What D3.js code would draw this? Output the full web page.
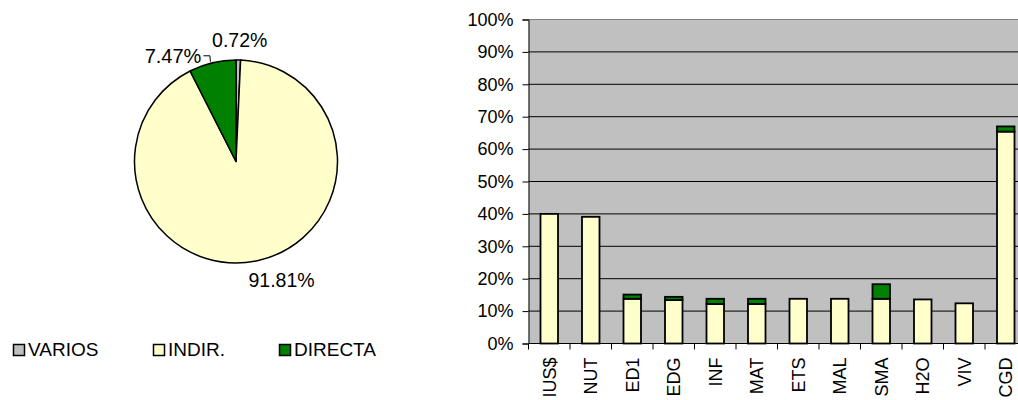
<!DOCTYPE html>
<html>
<head>
<meta charset="utf-8">
<script src="https://cdn.jsdelivr.net/npm/d3@7"></script>
<style>
  body { margin: 0; background: #fff; }
  svg { display: block; font-family: "Liberation Sans", Arial, sans-serif; }
</style>
</head>
<body>
<div id="chart"></div>
<script>
// pie shares (clockwise from 12 o'clock)
let pieKeys = ['VARIOS', 'INDIR.', 'DIRECTA'];
let pieValues = [0.72, 91.81, 7.47];
let pieColors = ['#c0c0c0', '#ffffcc', '#008000'];

// stacked bars, percent
let categories = ['IUS$', 'NUT', 'ED1', 'EDG', 'INF', 'MAT', 'ETS', 'MAL', 'SMA', 'H2O', 'VIV', 'CGD'];
let variosValues = [0, 0, 0, 0, 0, 0, 0, 0, 0, 0, 0, 0];
let indirValues = [40.0, 39.1, 13.8, 13.4, 12.2, 12.2, 13.8, 13.8, 13.8, 13.6, 12.4, 65.4];
let directaValues = [0, 0, 1.3, 1.0, 1.6, 1.6, 0, 0, 4.5, 0, 0, 1.6];
let yTicks = [0, 10, 20, 30, 40, 50, 60, 70, 80, 90, 100];

let W = 1018, H = 400;
let svg = d3.select('#chart').append('svg')
  .attr('width', W)
  .attr('height', H);

// ---------- pie ----------
let cx = 236, cy = 161.5, r = 101.5;
let pieData = pieKeys.map((k, i) => ({key: k, value: pieValues[i], color: pieColors[i]}));
let arcs = d3.pie().sort(null).value(d => d.value)(pieData);
let arc = d3.arc().innerRadius(0).outerRadius(r);

let pieG = svg.append('g').attr('transform', `translate(${cx}, ${cy})`);
pieG.selectAll('path')
  .data(arcs)
  .join('path')
  .attr('d', arc)
  .attr('fill', d => d.data.color)
  .attr('stroke', '#000')
  .attr('stroke-width', 1.5)
  .attr('stroke-linejoin', 'round');

let labelFont = 19.5;
arcs.forEach(function(d) {
  let mid = (d.startAngle + d.endAngle) / 2;
  let txt = d.data.value.toFixed(2) + '%';
  let edge = [Math.sin(mid) * r, -Math.cos(mid) * r];
  if (d.data.key === 'DIRECTA') {
    // label pushed aside with a leader line
    let p = [edge[0] - 2, edge[1] - 1];
    pieG.append('polyline')
      .attr('points', [p, [p[0] - 0.5, p[1] - 6], [p[0] - 7, p[1] - 6]].map(q => q.join(',')).join(' '))
      .attr('fill', 'none')
      .attr('stroke', '#000')
      .attr('stroke-width', 1);
    pieG.append('text')
      .attr('x', p[0] - 9)
      .attr('y', p[1] - 6)
      .attr('dy', '0.35em')
      .attr('text-anchor', 'end')
      .attr('font-size', 20)
      .text(txt);
  } else {
    let lr = r + 20;
    let x = Math.sin(mid) * lr, y = -Math.cos(mid) * lr;
    let dx = d.data.key === 'INDIR.' ? 20 : 1;
    pieG.append('text')
      .attr('x', x + dx)
      .attr('y', y)
      .attr('dy', '0.35em')
      .attr('text-anchor', 'middle')
      .attr('font-size', labelFont)
      .text(txt);
  }
});

// legend
let legendX = [13, 153, 279];
let legend = svg.append('g');
pieData.forEach(function(d, i) {
  legend.append('rect')
    .attr('x', legendX[i] + 0.5)
    .attr('y', 344.5)
    .attr('width', 11)
    .attr('height', 11)
    .attr('fill', d.color)
    .attr('stroke', '#000')
    .attr('stroke-width', 1.5);
  legend.append('text')
    .attr('x', legendX[i] + 15)
    .attr('y', 356)
    .attr('font-size', 19)
    .text(d.key);
});

// ---------- bars ----------
let margin = {left: 528.5, top: 19.5};
let plotH = 324;
let step = 41.5;
let plotW = step * categories.length;

let x = d3.scaleBand().domain(categories).range([0, plotW]).padding(0);
let y = d3.scaleLinear().domain([0, 100]).range([plotH, 0]);

let g = svg.append('g').attr('transform', `translate(${margin.left}, ${margin.top})`);

g.append('rect')
  .attr('width', plotW)
  .attr('height', plotH)
  .attr('fill', '#c0c0c0');

g.selectAll('line.grid')
  .data(yTicks.filter(t => t > 0))
  .join('line')
  .classed('grid', true)
  .attr('x1', 0)
  .attr('x2', plotW)
  .attr('y1', d => y(d))
  .attr('y2', d => y(d))
  .attr('stroke', d => d === 100 ? '#808080' : '#000')
  .attr('stroke-width', 1);

let rows = categories.map((c, i) => ({cat: c, varios: variosValues[i], indir: indirValues[i], directa: directaValues[i]}));
let stack = d3.stack().keys(['varios', 'indir', 'directa'])(rows);
let stackColors = {varios: '#c0c0c0', indir: '#ffffcc', directa: '#008000'};
let barW = 17.5;

stack.forEach(function(layer) {
  g.append('g')
    .selectAll('rect')
    .data(layer.filter(d => d[1] - d[0] > 0))
    .join('rect')
    .attr('x', d => x(d.data.cat) + x.bandwidth() / 2 - barW / 2)
    .attr('y', d => y(d[1]))
    .attr('width', barW)
    .attr('height', d => y(d[0]) - y(d[1]))
    .attr('fill', stackColors[layer.key])
    .attr('stroke', '#000')
    .attr('stroke-width', 1.8);
});

// y axis
let yAxis = g.append('g')
  .call(d3.axisLeft(y).tickValues(yTicks).tickFormat(d => d + '%').tickSize(6).tickPadding(9));
yAxis.select('.domain').attr('stroke', '#000');
yAxis.selectAll('text')
  .attr('font-size', 18)
  .attr('font-family', '"Liberation Sans", Arial, sans-serif')
  .attr('fill', '#000');

// x axis with ticks between categories
let xAxis = g.append('g')
  .attr('transform', `translate(0, ${plotH})`)
  .call(d3.axisBottom(x).tickSize(0).tickPadding(0));
xAxis.select('.domain').attr('d', `M0,0H${plotW}`).attr('stroke', '#000');
xAxis.selectAll('text')
  .attr('font-size', 18)
  .attr('font-family', '"Liberation Sans", Arial, sans-serif')
  .attr('fill', '#000')
  .attr('text-anchor', 'end')
  .attr('transform', 'translate(0, 14) rotate(-90)')
  .attr('x', 0)
  .attr('y', 0)
  .attr('dy', '0.35em');
xAxis.selectAll('line.bound')
  .data(d3.range(categories.length + 1))
  .join('line')
  .classed('bound', true)
  .attr('x1', i => i * x.step())
  .attr('x2', i => i * x.step())
  .attr('y1', 0)
  .attr('y2', 6)
  .attr('stroke', '#000');
</script>
</body>
</html>
